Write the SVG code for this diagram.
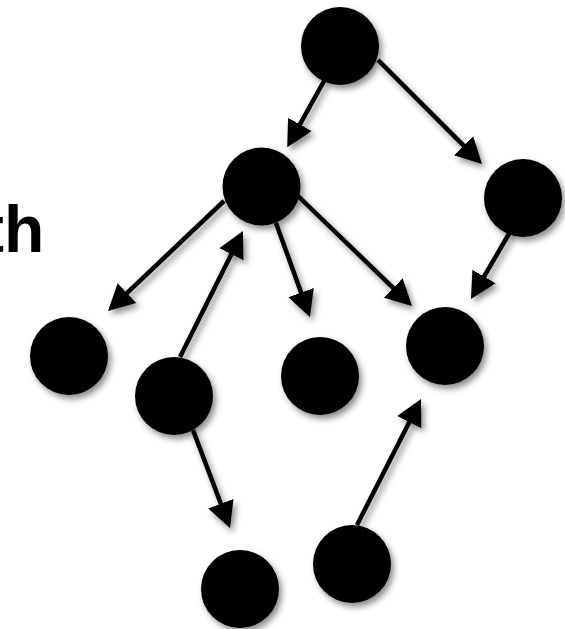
<svg xmlns="http://www.w3.org/2000/svg" width="565" height="629" viewBox="0 0 565 629">
  <style>
    .node { fill: #000; }
    .edge { stroke: #000; stroke-width: 4.5; fill: none; marker-end: url(#head); }
    .label { font-family: "Liberation Sans", Arial, sans-serif; font-weight: bold; font-size: 66px; fill: #000; }
  </style>
  <defs>
    <filter id="shadow" x="-20%" y="-20%" width="150%" height="150%">
      <feDropShadow dx="3" dy="4" stdDeviation="3" flood-color="#000" flood-opacity="0.45"/>
    </filter>
    <marker id="head" markerUnits="userSpaceOnUse" markerWidth="26" markerHeight="27" refX="16" refY="13.5" orient="auto" viewBox="0 0 26 27">
      <path d="M0,0 L26,13.5 L0,27 z" fill="#000"/>
    </marker>
  </defs>
  <rect width="565" height="629" fill="#fff"/>
  <text class="label" x="-18" y="252">th</text>
  <g id="connectors" filter="url(#shadow)">
    <line class="edge" x1="324" y1="81" x2="292.1" y2="138.4"/>
    <line class="edge" x1="378" y1="60" x2="474.9" y2="156.9"/>
    <line class="edge" x1="224" y1="201" x2="115.3" y2="304.1"/>
    <line class="edge" x1="180" y1="357" x2="238.5" y2="239.9"/>
    <line class="edge" x1="276" y1="223" x2="306.5" y2="307.6"/>
    <line class="edge" x1="298" y1="196" x2="404.8" y2="299.1"/>
    <line class="edge" x1="510" y1="232" x2="476.0" y2="290.4"/>
    <line class="edge" x1="193" y1="430" x2="226.5" y2="518.7"/>
    <line class="edge" x1="357" y1="525" x2="416.5" y2="407.9"/>
  </g>
  <g id="nodeA" filter="url(#shadow)"><circle class="node" cx="340" cy="46" r="39"/></g>
  <g id="nodeB" filter="url(#shadow)"><circle class="node" cx="523" cy="198" r="39"/></g>
  <g id="nodeC" filter="url(#shadow)"><circle class="node" cx="261.5" cy="186.5" r="39"/></g>
  <g id="nodeD" filter="url(#shadow)"><circle class="node" cx="69" cy="356" r="39"/></g>
  <g id="nodeE" filter="url(#shadow)"><circle class="node" cx="174" cy="396" r="39"/></g>
  <g id="nodeF" filter="url(#shadow)"><circle class="node" cx="320" cy="376" r="39"/></g>
  <g id="nodeG" filter="url(#shadow)"><circle class="node" cx="445" cy="346" r="39"/></g>
  <g id="nodeH" filter="url(#shadow)"><circle class="node" cx="240" cy="589" r="39"/></g>
  <g id="nodeI" filter="url(#shadow)"><circle class="node" cx="352" cy="564" r="39"/></g>
</svg>
